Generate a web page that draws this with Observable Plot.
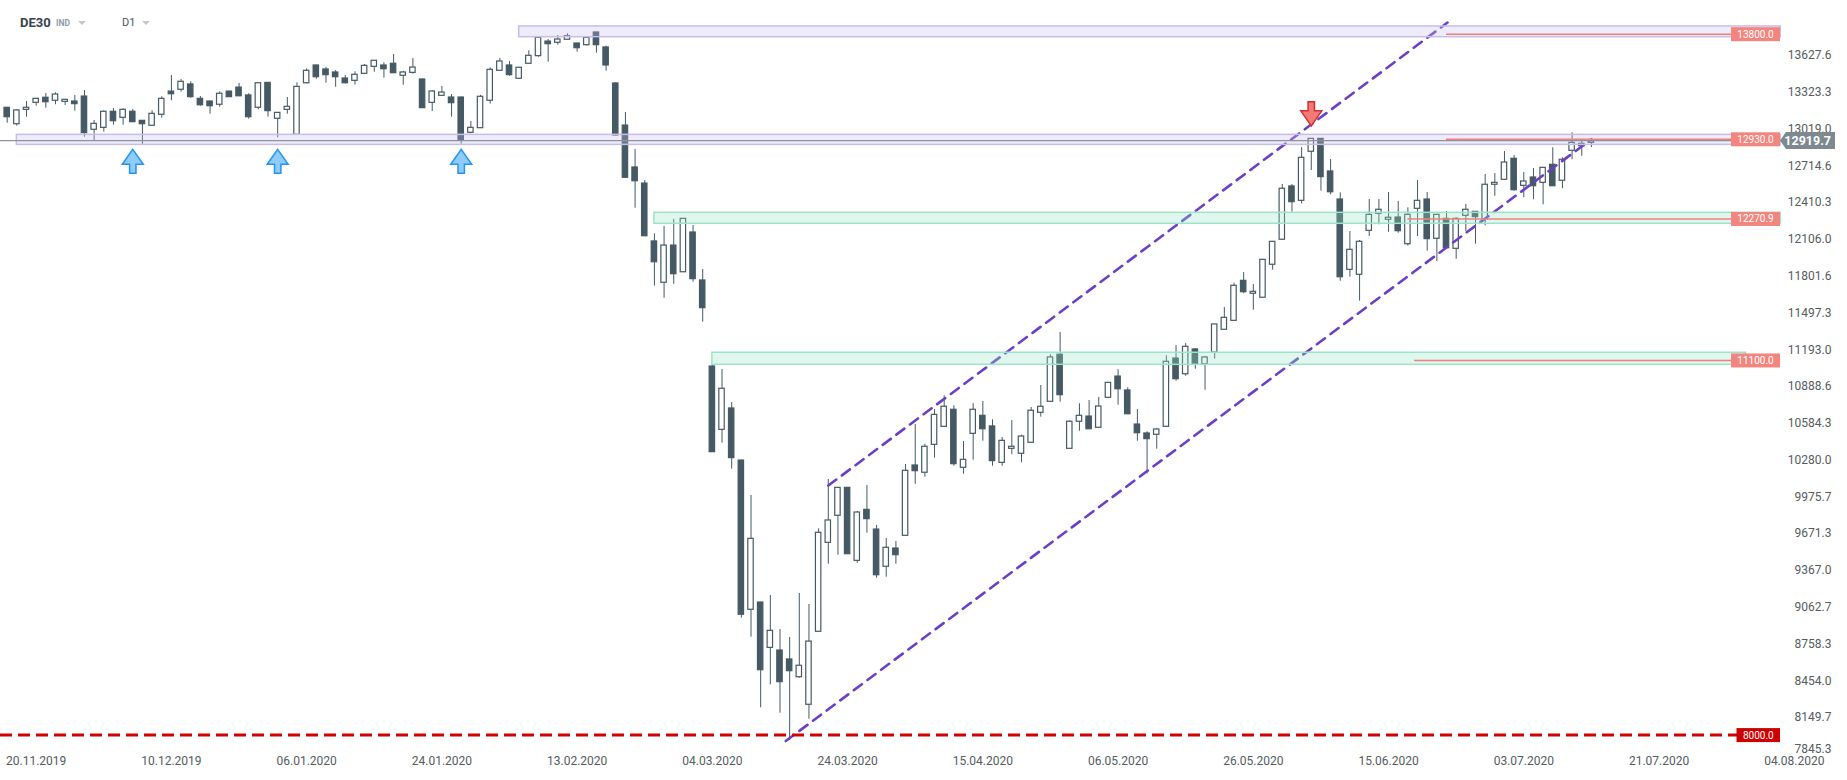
<!DOCTYPE html>
<html><head><meta charset="utf-8">
<script src="https://cdn.jsdelivr.net/npm/d3@7"></script>
<script src="https://cdn.jsdelivr.net/npm/@observablehq/plot@0.6"></script>
<style>
html,body{margin:0;padding:0;background:#fff;overflow:hidden}
#wrap{position:relative;width:1847px;height:780px}
.hdr{position:absolute;font-family:Roboto,sans-serif;white-space:nowrap;line-height:16px}
.tri{position:absolute;width:0;height:0;border-left:4px solid transparent;border-right:4px solid transparent;border-top:4px solid #c3c8cc}
</style></head><body>
<div id="wrap">
<div id="chart"></div>
<div class="hdr" style="left:20px;top:15px;font-size:13px;font-weight:700;color:#37424c">DE30</div>
<div class="hdr" style="left:56px;top:15px;font-size:8.5px;font-weight:700;color:#8d9aa8">IND</div>
<div class="tri" style="left:78px;top:21px"></div>
<div class="hdr" style="left:122px;top:15px;font-size:11px;color:#4a535c">D1</div>
<div class="tri" style="left:142px;top:21px"></div>
</div>
<script>
// ---- candle data (daily OHLC, bar index 0..164) ----
const opens = [13195,13059,13178,13236,13278,13253,13244,13247,13288,13013,
13029,13162,13112,13162,13087,13046,13137,13329,13344,13388,
13269,13247,13220,13329,13362,13297,13195,13401,13104,13178,
12971,13398,13545,13512,13487,13437,13418,13476,13534,13545,
13559,13460,13484,13429,13236,13294,13280,13280,12988,13026,
13253,13501,13545,13435,13559,13622,13743,13733,13758,13727,
13713,13818,13694,13396,13048,12701,12568,12089,11747,12055,
11834,12163,11766,11054,10530,10707,10276,9041,9101,8726,
8704,8630,8483,8255,8859,9595,9819,10050,9446,9868,
9705,9397,9548,9653,10235,10175,10406,10555,10696,10216,
10497,10646,10558,10257,10373,10332,10423,10671,10762,11151,
10373,10597,10640,10547,10795,10971,10856,10574,10500,10489,
10555,11120,10990,11195,11073,11170,11358,11432,11763,11656,
11623,11896,12103,12544,12425,12831,12938,12668,12436,11854,
11813,12177,12318,12268,12287,12066,12359,12436,12111,12276,
12028,12301,12334,12271,12558,12599,12773,12549,12618,12574,
12723,12591,12839,12877,12905];
const highs = [13197,13178,13247,13269,13313,13319,13261,13297,13338,13090,
13170,13189,13187,13181,13087,13170,13286,13462,13429,13410,
13288,13247,13327,13332,13396,13311,13400,13402,13153,13280,
13402,13517,13547,13528,13503,13462,13493,13553,13586,13567,
13636,13498,13603,13431,13338,13371,13305,13282,13082,13297,
13526,13603,13578,13530,13667,13776,13760,13793,13807,13727,
13776,13820,13705,13404,13156,12850,12593,12152,12213,12271,
12278,12221,11857,11062,11029,10756,10278,9987,9102,9159,
8878,8812,9176,9085,9711,10119,10052,10052,9854,10069,
9739,9631,9606,10243,10574,10411,10698,10812,10729,10434,
10746,10765,10613,10467,10607,10486,10715,10897,11151,11336,
10605,10746,10773,10798,10921,11029,10878,10698,10514,10539,
11143,11228,11244,11203,11137,11403,11542,11744,11832,11733,
11939,12087,12560,12560,12866,12940,12940,12767,12491,12171,
12097,12436,12436,12494,12420,12367,12593,12494,12311,12337,
12285,12395,12336,12643,12651,12833,12800,12660,12693,12700,
12864,12781,12988,12930,12935];
const lows = [13067,13043,13117,13208,13192,13220,13214,13167,12952,12924,
12993,13051,13051,13076,12891,13046,13109,13253,13324,13274,
13208,13142,13200,13283,13290,13101,13178,13117,12947,13142,
12968,13393,13431,13398,13365,13393,13382,13476,13489,13440,
13481,13382,13473,13190,13164,13292,13117,12894,12980,13024,
13225,13499,13456,13432,13557,13614,13572,13713,13757,13655,
13705,13647,13498,12960,12610,12364,12132,11719,11619,11735,
11832,11752,11421,10343,10420,10204,8972,8814,8230,8420,
8185,7959,8475,8136,8858,9418,9493,9500,9426,9675,
9302,9311,9418,9652,10080,10138,10296,10555,10229,10163,
10279,10436,10229,10229,10324,10257,10421,10635,10760,10759,
10372,10519,10535,10546,10794,10734,10658,10436,10166,10370,
10554,10932,10974,11032,10858,11115,11357,11432,11656,11520,
11621,11851,12101,12331,12400,12676,12505,12475,11760,11793,
11595,12130,12227,12165,12157,12050,12130,12008,11923,12032,
11942,12171,12066,12218,12463,12598,12505,12450,12434,12392,
12545,12525,12765,12794,12866];
const closes = [13117,13173,13195,13269,13241,13305,13261,13225,12985,13062,
13162,13084,13178,13076,13059,13145,13269,13307,13410,13283,
13216,13208,13311,13283,13290,13117,13398,13167,13153,13203,
13368,13501,13448,13465,13448,13398,13468,13542,13584,13514,
13481,13487,13528,13192,13330,13321,13233,12924,13029,13286,
13509,13578,13465,13526,13625,13774,13721,13760,13787,13688,
13774,13713,13545,12966,12616,12587,12132,11917,12055,11818,
12276,11777,11537,10345,10870,10296,9000,9628,8541,8867,
8442,8533,8578,8778,9678,9780,10050,9501,9846,9791,
9327,9554,9493,10191,10188,10390,10654,10721,10246,10282,
10696,10535,10271,10439,10390,10475,10688,10721,11129,10817,
10597,10646,10535,10723,10919,10866,10659,10502,10453,10533,
11093,10949,11217,11073,11129,11402,11457,11722,11669,11672,
11937,12086,12525,12414,12781,12938,12621,12496,11793,12020,
12086,12309,12351,12285,12174,12309,12425,12108,12309,12033,
12276,12351,12290,12558,12574,12742,12513,12585,12546,12698,
12546,12765,12905,12897,12919.7];

// ---- axis ticks ----
const xTickIdx = [3,17,31,45,59,73,87,101,115,129,143,157,171,185];
const xTickLabels = ["20.11.2019","10.12.2019","06.01.2020","24.01.2020","13.02.2020","04.03.2020","24.03.2020","15.04.2020","06.05.2020","26.05.2020","15.06.2020","03.07.2020","21.07.2020","04.08.2020"];
const yTickValues = [13627.6,13323.3,13019.0,12714.6,12410.3,12106.0,11801.6,11497.3,11193.0,10888.6,10584.3,10280.0,9975.7,9671.3,9367.0,9062.7,8758.3,8454.0,8149.7,7845.3];

// ---- zones (start bar, low, high, kind) ----
const zoneStart = [53, 1, 67, 73];
const zoneLow = [13779, 12888, 12235, 11068];
const zoneHigh = [13868, 12971, 12326, 11168];
const zoneKind = ["purple", "purple", "green", "green"];
const zoneEnd = [183.6, 183.6, 183.6, 180.0];

// ---- horizontal levels with tags ----
const levelValues = [13800, 12930, 12270.9, 11100];
const levelStart = [149, 149, 145, 145.7];
const supportLevel = 8000;
const lastPrice = 12919.7;

// ---- channel lines (bar index, price) ----
const channelUpperX = [85, 149.1];
const channelUpperY = [10069, 13900];
const channelLowerX = [80.6, 164];
const channelLowerY = [7955, 12935];

// ---- signal arrows ----
const arrowUpIdx = [13, 28, 47];
const arrowUpY = 12752;
const arrowDownIdx = [135];
const arrowDownY = 13145;

const candle = "#455a64";
const idx = d3.range(opens.length);
const bullIdx = idx.filter(i => closes[i] >= opens[i]);
const bearIdx = idx.filter(i => closes[i] < opens[i]);
const hw = 0.28;

const upArrow = {draw(ctx, size) {
  const s = Math.sqrt(size / Math.PI) / 12;
  ctx.moveTo(0, -12 * s); ctx.lineTo(10.5 * s, 3 * s); ctx.lineTo(3.2 * s, 3 * s);
  ctx.lineTo(3.2 * s, 12 * s); ctx.lineTo(-3.2 * s, 12 * s); ctx.lineTo(-3.2 * s, 3 * s);
  ctx.lineTo(-10.5 * s, 3 * s); ctx.closePath();
}};
const downArrow = {draw(ctx, size) {
  const s = Math.sqrt(size / Math.PI) / 12;
  ctx.moveTo(0, 12 * s); ctx.lineTo(10.5 * s, -3 * s); ctx.lineTo(3.2 * s, -3 * s);
  ctx.lineTo(3.2 * s, -12 * s); ctx.lineTo(-3.2 * s, -12 * s); ctx.lineTo(-3.2 * s, -3 * s);
  ctx.lineTo(-10.5 * s, -3 * s); ctx.closePath();
}};

function overlays(index, scales, values, dim) {
  const W = dim.width;
  const g = d3.create("svg:g").attr("font-family", "Roboto, sans-serif");
  // last price line
  const yl = scales.y(lastPrice);
  g.append("line").attr("x1", 0).attr("x2", W - 67).attr("y1", yl).attr("y2", yl)
    .attr("stroke", "#8c949b").attr("stroke-width", 1.2);
  // support dashed line
  const ys = scales.y(supportLevel);
  g.append("line").attr("x1", 0).attr("x2", W - 110).attr("y1", ys).attr("y2", ys)
    .attr("stroke", "#d40000").attr("stroke-width", 3).attr("stroke-dasharray", "12,6");
  // level lines + tags
  levelValues.forEach((v, k) => {
    const y = scales.y(v);
    g.append("line").attr("x1", scales.x(levelStart[k])).attr("x2", W - 116).attr("y1", y).attr("y2", y)
      .attr("stroke", "#f08080").attr("stroke-width", 1.5);
    g.append("rect").attr("x", W - 116).attr("y", y - 7).attr("width", 49).attr("height", 14).attr("fill", "#f3857f");
    g.append("text").attr("x", W - 91.5).attr("y", y).attr("dy", "0.35em").attr("text-anchor", "middle")
      .attr("fill", "#fff").attr("font-size", 10).text(v.toFixed(1));
  });
  g.append("rect").attr("x", W - 110.5).attr("y", ys - 7).attr("width", 43.5).attr("height", 14).attr("fill", "#cc0000");
  g.append("text").attr("x", W - 88.7).attr("y", ys).attr("dy", "0.35em").attr("text-anchor", "middle")
    .attr("fill", "#fff").attr("font-size", 10).text(supportLevel.toFixed(1));
  // last price tag
  const x0 = W - 67;
  g.append("path").attr("d", `M${x0},${yl}L${x0 + 6},${yl - 8.5}H${W - 12}V${yl + 8.5}H${x0 + 6}Z`).attr("fill", "#7d888f");
  g.append("text").attr("x", W - 16).attr("y", yl).attr("dy", "0.36em").attr("text-anchor", "end")
    .attr("fill", "#fff").attr("font-size", 12.5).attr("font-weight", 700).text(lastPrice.toFixed(1));
  return g.node();
}

const chart = Plot.plot({
  width: 1847, height: 780, margin: 0,
  style: {fontFamily: "Roboto, sans-serif", background: "#fff", overflow: "visible"},
  x: {type: "linear", domain: [-0.6936, 190.51], range: [0, 1847], axis: null},
  y: {domain: [7628.4, 14082.7], range: [780, 0], axis: null},
  marks: [
    // wicks
    Plot.ruleX(idx, {x: i => i, y1: i => lows[i], y2: i => highs[i], stroke: candle, strokeWidth: 1}),
    // bodies
    Plot.rect(bearIdx, {x1: i => i - hw, x2: i => i + hw, y1: i => opens[i], y2: i => closes[i], fill: candle, stroke: candle, strokeWidth: 1.2}),
    Plot.rect(bullIdx, {x1: i => i - hw, x2: i => i + hw, y1: i => opens[i], y2: i => closes[i], fill: "#fff", stroke: candle, strokeWidth: 1.2}),
    // channel
    Plot.line(channelUpperX.map((x, k) => [x, channelUpperY[k]]), {x: d => d[0], y: d => d[1], stroke: "#6c3fc9", strokeWidth: 2.6, strokeDasharray: "10,7"}),
    Plot.line(channelLowerX.map((x, k) => [x, channelLowerY[k]]), {x: d => d[0], y: d => d[1], stroke: "#6c3fc9", strokeWidth: 2.6, strokeDasharray: "10,7"}),
    // zones
    Plot.rect(d3.range(zoneStart.length), {
      x1: k => zoneStart[k], x2: k => zoneEnd[k], y1: k => zoneLow[k], y2: k => zoneHigh[k],
      fill: k => zoneKind[k] === "purple" ? "rgb(200,188,240)" : "rgb(150,228,200)",
      fillOpacity: 0.3,
      stroke: k => zoneKind[k] === "purple" ? "#c8bde8" : "#9ee3c8",
      strokeWidth: 1.5
    }),
    // y tick labels
    Plot.text(yTickValues.slice(0, -1), {y: d => d, text: d => d.toFixed(1), frameAnchor: "right", textAnchor: "end", dx: -16, fill: "#555b61", fontSize: 12}),
    Plot.text(yTickValues.slice(-1), {y: d => d, text: d => d.toFixed(1), frameAnchor: "right", textAnchor: "end", dx: -16, dy: -5.5, fill: "#555b61", fontSize: 12}),
    // x tick labels
    Plot.text(xTickIdx, {x: d => d, text: (d, k) => xTickLabels[k], frameAnchor: "bottom", dy: -16, fill: "#555b61", fontSize: 12}),
    overlays,
    // arrows
    Plot.dot(arrowUpIdx, {x: d => d, y: () => arrowUpY, symbol: upArrow, r: 12, fill: "#8fcbfb", stroke: "#2196f3", strokeWidth: 1.5}),
    Plot.dot(arrowDownIdx, {x: d => d, y: () => arrowDownY, symbol: downArrow, r: 12, fill: "#f07a76", stroke: "#d32f2f", strokeWidth: 1.5})
  ]
});
document.getElementById("chart").appendChild(chart);
</script>
</body></html>
